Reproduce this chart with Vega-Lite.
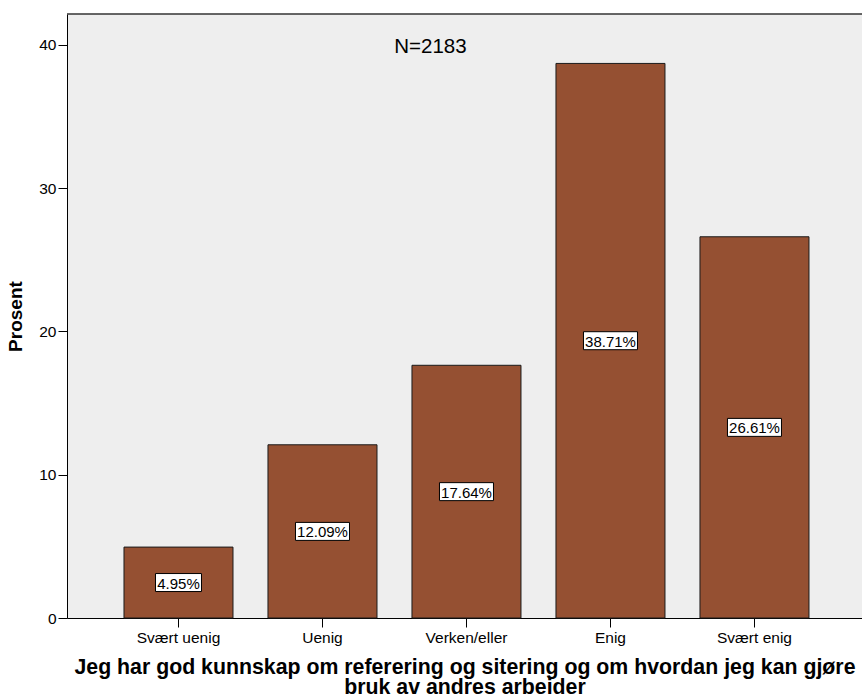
{
  "$schema": "https://vega.github.io/schema/vega-lite/v6.json",
  "autosize": {"type": "none"},
  "padding": {"left": 67, "top": 14, "right": 0, "bottom": 82},
  "width": 795,
  "height": 604,
  "background": "white",
  "config": {
    "view": {"fill": "#EEEEEE", "stroke": null},
    "font": "Liberation Sans",
    "axis": {"grid": false, "domainColor": "#000000", "tickColor": "#000000", "labelColor": "#000000", "titleColor": "#000000", "labelFont": "Liberation Sans", "titleFont": "Liberation Sans"}
  },
  "data": {
    "values": [
      {"kategori": "Svært uenig", "value": 4.95},
      {"kategori": "Uenig", "value": 12.09},
      {"kategori": "Verken/eller", "value": 17.64},
      {"kategori": "Enig", "value": 38.71},
      {"kategori": "Svært enig", "value": 26.61}
    ]
  },
  "transform": [
    {"calculate": "format(datum.value, '.2f') + '%'", "as": "label"},
    {"calculate": "datum.value / 2", "as": "mid"},
    {"calculate": "length(datum.label)", "as": "len"}
  ],
  "encoding": {
    "x": {
      "field": "kategori",
      "type": "nominal",
      "sort": ["Svært uenig", "Uenig", "Verken/eller", "Enig", "Svært enig"],
      "scale": {"paddingInner": 0.243, "paddingOuter": 0.382, "align": 0.518},
      "axis": {
        "labelAngle": 0,
        "labelFontSize": 15.5,
        "tickSize": 9,
        "labelPadding": 3,
        "title": ["Jeg har god kunnskap om referering og sitering og om hvordan jeg kan gjøre", "bruk av andres arbeider"],
        "titleFontSize": 21.3,
        "titleFontWeight": "bold",
        "titleLineHeight": 19.5,
        "titlePadding": 11
      }
    }
  },
  "layer": [
    {
      "mark": {"type": "bar", "color": "#955032", "stroke": "#1a1a1a", "strokeWidth": 1},
      "encoding": {
        "y": {
          "field": "value",
          "type": "quantitative",
          "scale": {"domain": [0, 42.16], "nice": false, "zero": true},
          "axis": {
            "values": [0, 10, 20, 30, 40],
            "labelFontSize": 15.5,
            "tickSize": 9,
            "labelPadding": 2,
            "title": "Prosent",
            "titleFontSize": 19,
            "titleFontWeight": "bold",
            "titlePadding": 13
          }
        }
      }
    },
    {
      "mark": {"type": "point", "filled": true, "fill": "white", "stroke": "#000000", "strokeWidth": 1, "opacity": 1, "size": 2916},
      "encoding": {
        "y": {"field": "mid", "type": "quantitative"},
        "shape": {
          "field": "len",
          "type": "nominal",
          "scale": {"domain": [5, 6], "range": ["M-0.852,-0.3333H0.852V0.3333H-0.852Z", "M-1,-0.3333H1V0.3333H-1Z"]},
          "legend": null
        }
      }
    },
    {
      "mark": {"type": "text", "fontSize": 15, "fontWeight": "normal", "color": "#000000", "baseline": "middle", "align": "center", "dy": 1},
      "encoding": {
        "y": {"field": "mid", "type": "quantitative"},
        "text": {"field": "label", "type": "nominal"}
      }
    },
    {
      "data": {"values": [{"top": 42.16}]},
      "mark": {"type": "rule", "color": "#333333", "strokeWidth": 1.5},
      "encoding": {"y": {"field": "top", "type": "quantitative"}, "x": null}
    },
    {
      "data": {"values": [{"kategori": "Verken/eller", "y": 39.86, "tekst": "N=2183"}]},
      "mark": {"type": "text", "fontSize": 20.5, "fontWeight": "normal", "color": "#000000", "align": "center", "baseline": "middle", "dx": -36},
      "encoding": {
        "y": {"field": "y", "type": "quantitative"},
        "text": {"field": "tekst", "type": "nominal"}
      }
    }
  ]
}
